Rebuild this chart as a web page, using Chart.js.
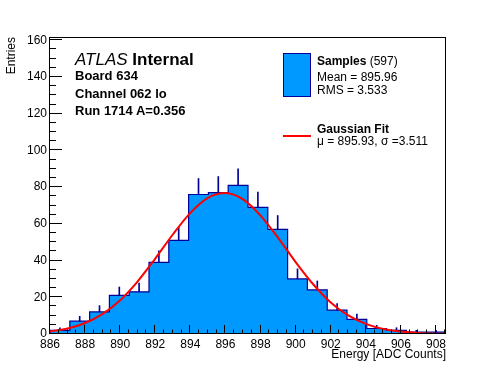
<!DOCTYPE html>
<html>
<head>
<meta charset="utf-8">
<script src="https://cdn.jsdelivr.net/npm/chart.js@4.4.1/dist/chart.umd.min.js"></script>
<style>
  body { margin: 0; background: #fff; }
  #wrap { position: relative; width: 496px; height: 372px; font-family: "Liberation Sans", Arial, sans-serif; color: #000; }
  .txt { position: absolute; white-space: nowrap; }
  .b { font-weight: bold; }
  #swatch { position: absolute; left: 283px; top: 53px; width: 28px; height: 44px; box-sizing: border-box; background: #0099ff; border: 1px solid #000099; }
  #fitline { position: absolute; left: 283px; top: 135px; width: 28px; height: 2px; background: #ff0000; }
</style>
</head>
<body>
<div id="wrap">
  <canvas id="chart" width="496" height="372"></canvas>

  <div class="txt" style="left:75px; top:50.6px; font-size:17px; line-height:17px;"><i>ATLAS</i> <span class="b">Internal</span></div>
  <div class="txt b" style="left:75px; top:69px; font-size:13px; line-height:13px;">Board 634</div>
  <div class="txt b" style="left:75px; top:86.5px; font-size:13px; line-height:13px;">Channel 062 lo</div>
  <div class="txt b" style="left:75px; top:104px; font-size:13px; line-height:13px;">Run 1714 A=0.356</div>

  <div id="swatch"></div>
  <div class="txt" style="left:317px; top:54.8px; font-size:12px; line-height:12px;"><span class="b">Samples</span> (597)</div>
  <div class="txt" style="left:317px; top:70.5px; font-size:12px; line-height:12px;">Mean = 895.96</div>
  <div class="txt" style="left:317px; top:83.8px; font-size:12px; line-height:12px;">RMS = 3.533</div>

  <div id="fitline"></div>
  <div class="txt b" style="left:317px; top:123.1px; font-size:12px; line-height:12px;">Gaussian Fit</div>
  <div class="txt" style="left:317px; top:134.8px; font-size:12px; line-height:12px;">μ = 895.93, σ =3.511</div>
</div>

<script>
  // histogram: 20 bins starting at 886
  const binStart = 886;
  const binWidth = 1.1285;
  const counts = [2, 7, 12, 21, 23, 39, 51, 76, 77, 81, 69, 57, 30, 24, 13, 8, 3, 2, 1, 1];

  // fitted gaussian
  const fitX = [886, 887, 888, 889, 890, 891, 892, 893, 894, 895, 896, 897, 898, 899, 900, 901, 902, 903, 904, 905, 906, 907, 908, 908.55];
  const fitY = [1.4, 3.0, 6.0, 11.0, 18.4, 28.7, 41.1, 54.2, 66.0, 74.2, 76.8, 73.3, 64.5, 52.4, 39.2, 27.1, 17.2, 10.1, 5.5, 2.7, 1.3, 0.5, 0.2, 0.1];

  const xTicks = [886, 888, 890, 892, 894, 896, 898, 900, 902, 904, 906, 908];
  const yTicks = [0, 20, 40, 60, 80, 100, 120, 140, 160];
  const xMin = 886, xMax = 908.57;
  const yMin = 0, yMax = 161.8;

  const histData = [{ x: binStart, y: 0 }];
  counts.forEach((c, i) => histData.push({ x: binStart + i * binWidth, y: c }));
  histData.push({ x: binStart + counts.length * binWidth, y: counts[counts.length - 1] });
  histData.push({ x: binStart + counts.length * binWidth, y: 0 });

  const errData = counts.map((c, i) => ({
    x: binStart + (i + 0.5) * binWidth,
    y: [c, c + Math.sqrt(c)]
  }));

  const fitData = fitX.map((x, i) => ({ x: x, y: fitY[i] }));

  // ROOT style frame with ticks pointing inwards
  const frameTicks = {
    id: "frameTicks",
    afterDraw(chart) {
      const { ctx, chartArea: a, scales: { x, y } } = chart;
      ctx.save();
      ctx.strokeStyle = "#000";
      ctx.lineWidth = 1;
      ctx.beginPath();
      for (let i = 0; i * 5 <= yMax; i++) {
        const py = Math.round(y.getPixelForValue(i * 5)) - 0.5;
        const len = i % 4 === 0 ? 12 : 6;
        ctx.moveTo(a.left, py);
        ctx.lineTo(a.left + len, py);
      }
      for (let i = 0; xMin + i * 0.5 <= xMax; i++) {
        const px = Math.round(x.getPixelForValue(xMin + i * 0.5)) - 0.5;
        const len = i % 4 === 0 ? 9 : 4.5;
        ctx.moveTo(px, a.bottom);
        ctx.lineTo(px, a.bottom - len);
      }
      ctx.stroke();
      ctx.strokeRect(a.left - 0.5, a.top + 0.5, a.right - a.left, a.bottom - a.top - 1);
      ctx.restore();
    }
  };

  Chart.defaults.font.family = "'Liberation Sans', Arial, sans-serif";
  Chart.defaults.font.size = 12;
  Chart.defaults.color = "#000";

  new Chart(document.getElementById("chart"), {
    type: "line",
    data: {
      datasets: [
        {
          type: "line",
          data: fitData,
          borderColor: "#ff0000",
          borderWidth: 2,
          pointRadius: 0,
          cubicInterpolationMode: "monotone",
          fill: false,
          order: 0
        },
        {
          type: "bar",
          data: errData,
          backgroundColor: "#000099",
          borderWidth: 0,
          barThickness: 1,
          order: 1
        },
        {
          type: "line",
          data: histData,
          stepped: "before",
          borderColor: "#000099",
          borderWidth: 1.2,
          backgroundColor: "#0099ff",
          fill: "origin",
          pointRadius: 0,
          order: 2
        }
      ]
    },
    options: {
      responsive: false,
      animation: false,
      layout: { padding: { top: 37, right: 50, left: 0, bottom: 0 } },
      plugins: {
        legend: { display: false },
        tooltip: { enabled: false }
      },
      scales: {
        x: {
          type: "linear",
          offset: false,
          min: xMin,
          max: xMax,
          grid: { display: false, drawTicks: false },
          border: { display: false },
          afterBuildTicks: (scale) => {
            scale.ticks = xTicks.map((v) => ({ value: v }));
          },
          afterFit: (scale) => {
            scale.height = 38;
          },
          ticks: {
            autoSkip: false,
            maxRotation: 0,
            padding: 3,
            callback: (v) => String(v)
          },
          title: {
            display: true,
            text: "Energy [ADC Counts]",
            align: "end",
            padding: { top: 0, bottom: 10 }
          }
        },
        y: {
          min: yMin,
          max: yMax,
          grid: { display: false, drawTicks: false },
          border: { display: false },
          afterBuildTicks: (scale) => {
            scale.ticks = yTicks.map((v) => ({ value: v }));
          },
          afterFit: (scale) => {
            scale.width = 50;
          },
          ticks: {
            padding: 3,
            callback: (v) => String(v)
          },
          title: {
            display: true,
            text: "Entries",
            align: "end",
            padding: { top: 4.5, bottom: 0 }
          }
        }
      }
    },
    plugins: [frameTicks]
  });
</script>
</body>
</html>
